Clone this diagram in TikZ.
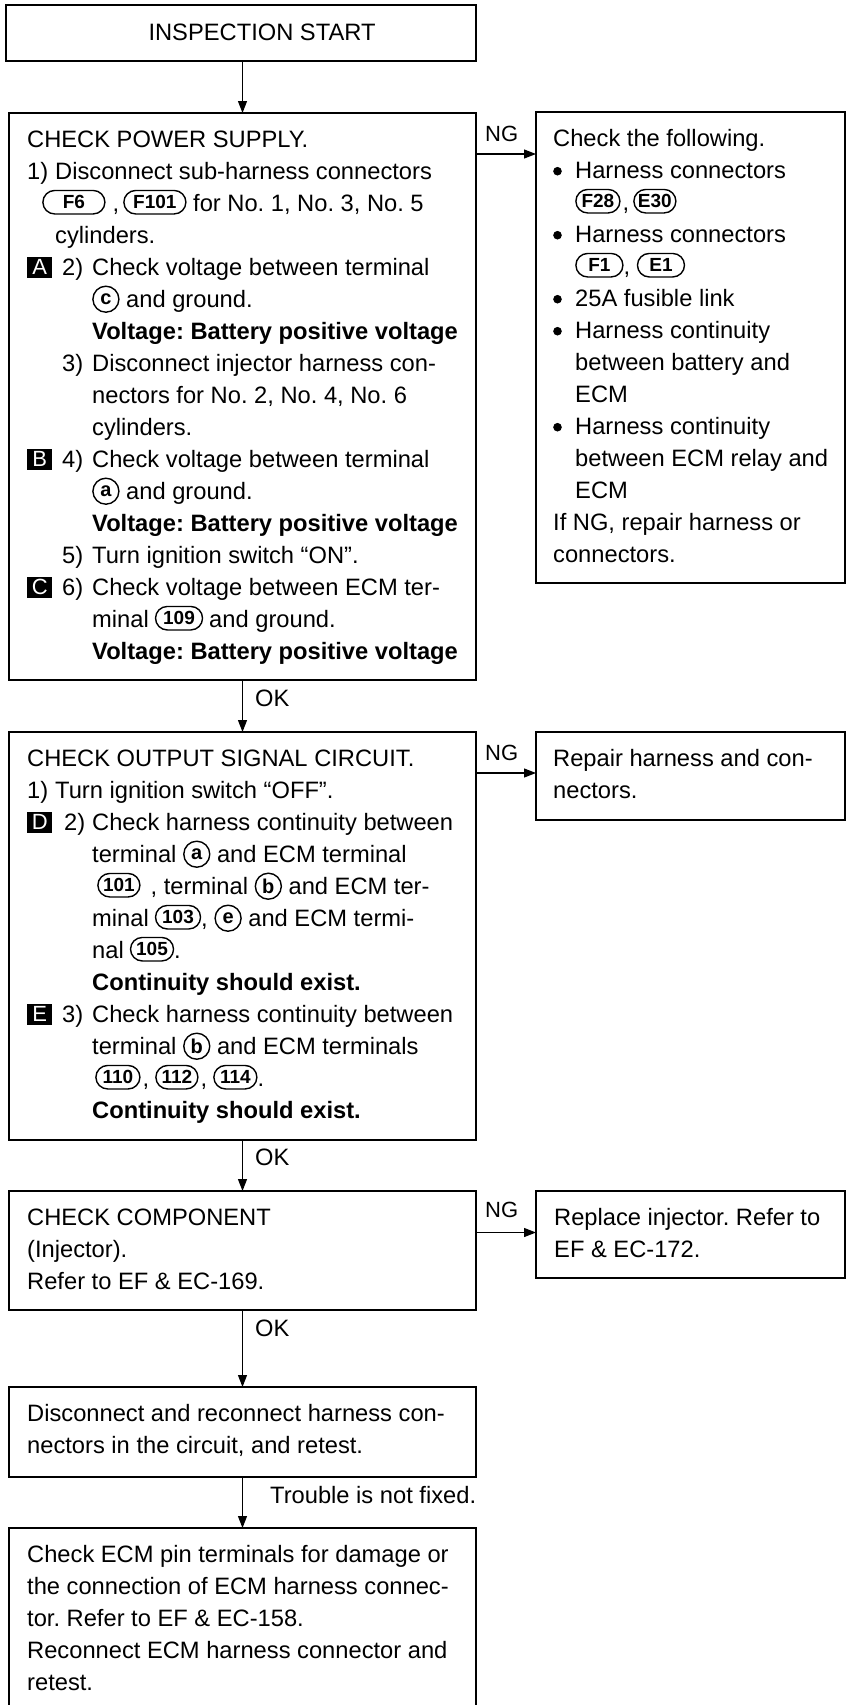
\documentclass[tikz,border=0pt]{standalone}
\usepackage{fontspec}
\setmainfont{Liberation Sans}
\usetikzlibrary{arrows.meta,calc,shapes.misc}
\newcommand\cir[1]{\tikz[baseline={([yshift=-8.5pt]c.center)}]\node[circ](c){#1};}
\newcommand\ovl[2]{\tikz[baseline={([yshift=-9.5pt]o.center)}]\node[pill,minimum width=#1pt](o){#2};}
\newcommand\blk[1]{\tikz[baseline={([yshift=-8.5pt]k.center)}]\node[blkbox](k){#1};}
\newcommand\bul{\makebox[22pt][l]{\tikz[baseline=-7.5pt]\fill (0,0) circle (4.3pt);}}
\newcommand\ind{\hspace*{65pt}}
\tikzset{
 circ/.style={draw,circle,line width=1.4pt,minimum size=26pt,inner sep=0pt,font=\bfseries\fontsize{20}{20}\selectfont},
 pill/.style={draw,rounded rectangle,line width=1.4pt,minimum height=23.5pt,inner xsep=4pt,inner ysep=0pt,font=\bfseries\fontsize{19}{19}\selectfont},
 blkbox/.style={fill=black,text=white,minimum width=25pt,minimum height=21pt,inner sep=0pt,font=\fontsize{22}{22}\selectfont},
 box/.style={draw,line width=1.5pt,inner sep=0pt,outer sep=0pt,anchor=north west},
 txt/.style={anchor=north west,inner sep=0pt,align=left,font=\fontsize{23.7}{32}\selectfont\frenchspacing},
 lbl/.style={anchor=base west,inner sep=0pt,font=\fontsize{23.7}{32}\selectfont\frenchspacing},
 arr/.style={draw,line width=1.2pt,-{Triangle[length=12pt,width=9pt]}},
}
\begin{document}
\begin{tikzpicture}[x=1pt,y=-1pt]
\useasboundingbox (0,0) rectangle (847,1705);
\fill[white] (0,0) rectangle (847,1705);
\clip (0,0) rectangle (847,1705);

% boxes
\node[box,minimum width=470pt,minimum height=56pt] (ins) at (6,5) {};
\node[box,minimum width=467pt,minimum height=567pt] (pw) at (9,113) {};
\node[box,minimum width=309pt,minimum height=471pt] (cf) at (536,112) {};
\node[box,minimum width=467pt,minimum height=408pt] (out) at (9,732) {};
\node[box,minimum width=309pt,minimum height=88pt] (rep) at (536,732) {};
\node[box,minimum width=467pt,minimum height=119pt] (comp) at (9,1191) {};
\node[box,minimum width=309pt,minimum height=87pt] (repl) at (536,1191) {};
\node[box,minimum width=467pt,minimum height=90pt] (disc) at (9,1387) {};
\node[box,minimum width=467pt,minimum height=190pt] (fin) at (9,1528) {};

% texts
\node[anchor=base,inner sep=0pt,font=\fontsize{23.7}{32}\selectfont] (inst) at ($(ins.south)+(21,-20.3)$) {INSPECTION START};

\node[txt] (pwt) at ($(pw.north west)+(18,12.1)$) {%
\strut CHECK POWER SUPPLY.\\
\strut\makebox[28pt][l]{1)}Disconnect sub-harness connectors\\
\strut\hspace*{15pt}\ovl{70}{F6}\hspace{7pt},\hspace{4pt}\ovl{70}{F101} for No. 1, No. 3, No. 5\\
\strut\hspace*{28pt}cylinders.\\
\strut\makebox[35pt][l]{\blk{A}}\makebox[30pt][l]{2)}Check voltage between terminal\\
\strut\ind\cir{c} and ground.\\
\strut\ind\textbf{Voltage: Battery positive voltage}\\
\strut\hspace*{35pt}\makebox[30pt][l]{3)}Disconnect injector harness con-\\
\strut\ind nectors for No. 2, No. 4, No. 6\\
\strut\ind cylinders.\\
\strut\makebox[35pt][l]{\blk{B}}\makebox[30pt][l]{4)}Check voltage between terminal\\
\strut\ind\cir{a} and ground.\\
\strut\ind\textbf{Voltage: Battery positive voltage}\\
\strut\hspace*{35pt}\makebox[30pt][l]{5)}Turn ignition switch “ON”.\\
\strut\makebox[35pt][l]{\blk{C}}\makebox[30pt][l]{6)}Check voltage between ECM ter-\\
\strut\ind minal\hspace{6pt}\ovl{55}{109}\hspace{6pt}and ground.\\
\strut\ind\textbf{Voltage: Battery positive voltage}};

\node[txt] (cft) at ($(cf.north west)+(17,12.1)$) {%
\strut Check the following.\\
\strut\bul Harness connectors\\
\strut\hspace*{22pt}\ovl{52}{F28}\hspace{2pt},\hspace{4pt}\ovl{50}{E30}\\
\strut\bul Harness connectors\\
\strut\hspace*{22pt}\ovl{55}{F1}, \ovl{55}{E1}\\
\strut\bul 25A fusible link\\
\strut\bul Harness continuity\\
\strut\hspace*{22pt}between battery and\\
\strut\hspace*{22pt}ECM\\
\strut\bul Harness continuity\\
\strut\hspace*{22pt}between ECM relay and\\
\strut\hspace*{22pt}ECM\\
\strut If NG, repair harness or\\
\strut connectors.};

\node[txt] (outt) at ($(out.north west)+(18,12.1)$) {%
\strut CHECK OUTPUT SIGNAL CIRCUIT.\\
\strut\makebox[28pt][l]{1)}Turn ignition switch “OFF”.\\
\strut\makebox[37pt][l]{\blk{D}}\makebox[28pt][l]{2)}Check harness continuity between\\
\strut\ind terminal \cir{a} and ECM terminal\\
\strut\hspace*{70pt}\ovl{50}{101}\hspace{10pt}, terminal \cir{b} and ECM ter-\\
\strut\ind minal\hspace{6pt}\ovl{53}{103}, \cir{e} and ECM termi-\\
\strut\ind nal\hspace{6pt}\ovl{51}{105}.\\
\strut\ind\textbf{Continuity should exist.}\\
\strut\makebox[35pt][l]{\blk{E}}\makebox[30pt][l]{3)}Check harness continuity between\\
\strut\ind terminal \cir{b} and ECM terminals\\
\strut\hspace*{68pt}\ovl{52}{110}\hspace{2pt},\hspace{6pt}\ovl{50}{112}\hspace{2pt},\hspace{6pt}\ovl{51}{114}.\\
\strut\ind\textbf{Continuity should exist.}};

\node[txt] (rept) at ($(rep.north west)+(17,12.1)$) {%
\strut Repair harness and con-\\
\strut nectors.};

\node[txt] (compt) at ($(comp.north west)+(18,12.1)$) {%
\strut CHECK COMPONENT\\
\strut (Injector).\\
\strut Refer to EF \& EC-169.};

\node[txt] (replt) at ($(repl.north west)+(18,12.1)$) {%
\strut Replace injector. Refer to\\
\strut EF \& EC-172.};

\node[txt] (disct) at ($(disc.north west)+(18,12.1)$) {%
\strut Disconnect and reconnect harness con-\\
\strut nectors in the circuit, and retest.};

\node[txt] (fint) at ($(fin.north west)+(18,12.1)$) {%
\strut Check ECM pin terminals for damage or\\
\strut the connection of ECM harness connec-\\
\strut tor. Refer to EF \& EC-158.\\
\strut Reconnect ECM harness connector and\\
\strut retest.};

% vertical connectors
\draw[arr] (ins.south -| pw.north) -- (pw.north);
\draw[arr] (pw.south) -- (out.north);
\draw[arr] (out.south) -- (comp.north);
\draw[arr] (comp.south) -- (disc.north);
\draw[arr] (disc.south) -- (fin.north);

% NG connectors
\coordinate (n1) at ($(pw.north east)+(0,41)$);
\coordinate (n2) at ($(out.north east)+(0,41)$);
\coordinate (n3) at ($(comp.north east)+(0,41.5)$);
\draw[arr] (n1) -- (n1 -| cf.west);
\draw[arr] (n2) -- (n2 -| rep.west);
\draw[arr] (n3) -- (n3 -| repl.west);

% labels
\node[lbl,font=\fontsize{22}{26}\selectfont] (ng1) at ($(pw.north east)+(9,28)$) {NG};
\node[lbl,font=\fontsize{22}{26}\selectfont] (ng2) at ($(out.north east)+(9,28)$) {NG};
\node[lbl,font=\fontsize{22}{26}\selectfont] (ng3) at ($(comp.north east)+(9,26)$) {NG};
\node[lbl] (ok1) at ($(pw.south)+(12.5,26.5)$) {OK};
\node[lbl] (ok2) at ($(out.south)+(12.5,25)$) {OK};
\node[lbl] (ok3) at ($(comp.south)+(12.5,26.7)$) {OK};
\node[lbl] (tr) at ($(disc.south)+(27.5,26)$) {Trouble is not fixed.};
\end{tikzpicture}
\end{document}
